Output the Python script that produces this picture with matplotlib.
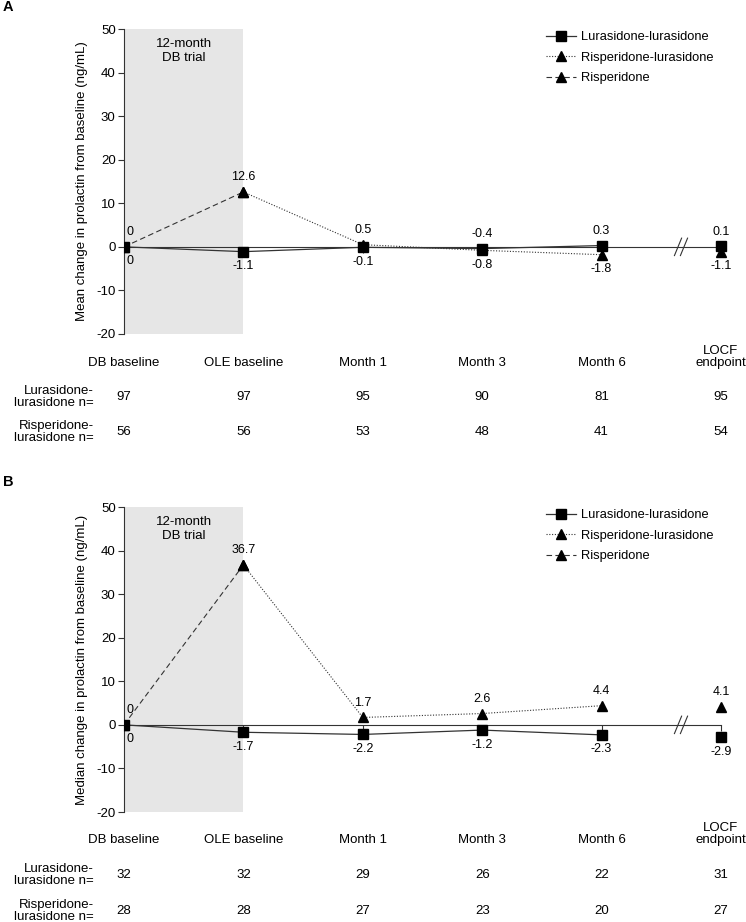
import numpy as np
import matplotlib
matplotlib.use("Agg")
import matplotlib.pyplot as plt
from matplotlib.transforms import blended_transform_factory

plt.rcParams['font.family'] = ['Liberation Sans', 'DejaVu Sans']
plt.rcParams['axes.unicode_minus'] = False

categories = ["DB baseline", "OLE baseline", "Month 1", "Month 3", "Month 6", "LOCF\nendpoint"]
series_names = ["Lurasidone-lurasidone", "Risperidone-lurasidone", "Risperidone"]
row_names = ["Lurasidone-\nlurasidone n=", "Risperidone-\nlurasidone n="]

# panel A: mean change
mean_lur = [0, -1.1, -0.1, -0.4, 0.3, 0.1]
mean_risp_lur = [np.nan, 12.6, 0.5, -0.8, -1.8, -1.1]
mean_risp = [0, 12.6]
mean_n_lur = [97, 97, 95, 90, 81, 95]
mean_n_risp = [56, 56, 53, 48, 41, 54]

# panel B: median change
med_lur = [0, -1.7, -2.2, -1.2, -2.3, -2.9]
med_risp_lur = [np.nan, 36.7, 1.7, 2.6, 4.4, 4.1]
med_risp = [0, 36.7]
med_n_lur = [32, 32, 29, 26, 22, 31]
med_n_risp = [28, 28, 27, 23, 20, 27]

W, H = 746, 922
fig = plt.figure(figsize=(W / 100, H / 100), dpi=100)

LINE = "#333333"


def fy(px):
    return 1 - px / H


def draw_panel(top, bottom, lur, risp_lur, risp, n_lur, n_risp, ylabel, letter, letter_y, leg_top, cat_y, row_y):
    left, right = 124, 739
    ax = fig.add_axes([left / W, fy(bottom), (right - left) / W, (bottom - top) / H])
    x = np.arange(len(categories))
    ax.set_xlim(0, (right - left) / 119.4)
    ax.set_ylim(-20, 50)

    # shaded DB trial block
    ax.axvspan(0, 1, color="#e6e6e6", zorder=0, lw=0)
    ax.text(0.5, 45, "12-month\nDB trial", ha="center", va="center", fontsize=9.5, linespacing=1.2)

    for s in ["top", "right"]:
        ax.spines[s].set_visible(False)
    ax.spines["bottom"].set_position(("data", 0))
    ax.spines["bottom"].set_bounds(0, 5)
    ax.spines["left"].set_bounds(-20, 50)
    for s in ["bottom", "left"]:
        ax.spines[s].set_color(LINE)
        ax.spines[s].set_linewidth(0.8)
    ax.set_xticks(x)
    ax.set_xticklabels([])
    ax.tick_params(axis="x", direction="out", length=4, width=0.8, color=LINE)
    ax.set_yticks(range(-20, 51, 10))
    ax.tick_params(axis="y", direction="out", length=4, width=0.8, color=LINE, labelsize=9.5, pad=2)

    # axis break
    for bx in [4.64, 4.69]:
        ax.plot([bx - 0.03, bx + 0.03], [-2.0, 2.0], color=LINE, lw=0.8, zorder=3)

    risp_lur = np.array(risp_lur, dtype=float)
    l3, = ax.plot(x[:2], risp, color=LINE, lw=0.8, ls=(0, (5, 3)), marker="^", ms=7.5,
                  mfc="black", mec="black", zorder=4, label=series_names[2])
    l2, = ax.plot(x[1:5], risp_lur[1:5], color=LINE, lw=0.8, ls=(0, (1, 1.5)), marker="^", ms=7.5,
                  mfc="black", mec="black", zorder=4, label=series_names[1])
    ax.plot(x[5], risp_lur[5], ls="none", marker="^", ms=7.5, color="black", zorder=4)
    l1, = ax.plot(x[:5], lur[:5], color=LINE, lw=0.9, marker="s", ms=6.8,
                  mfc="black", mec="black", zorder=5, label=series_names[0])
    ax.plot(x[5], lur[5], ls="none", marker="s", ms=6.8, color="black", zorder=5)

    # value labels: higher value above, lower below
    for i in range(len(categories)):
        tri = risp[0] if i == 0 else risp_lur[i]
        sq = lur[i]
        hi, lo = (tri, sq) if tri >= sq else (sq, tri)
        dx = 4 if i == 0 else 0
        for v, dy in [(hi, 10.5), (lo, -10.5)]:
            txt = "0" if v == 0 else f"{v:.1f}"
            ax.annotate(txt, (x[i], v), xytext=(dx, dy), textcoords="offset points",
                        ha="center", va="center", fontsize=9)

    ax.legend(handles=[l1, l2, l3], loc="upper left",
              bbox_to_anchor=(546 / W, fy(leg_top)), bbox_transform=fig.transFigure,
              frameon=False, fontsize=9.3, handlelength=2.3, handletextpad=0.4,
              labelspacing=0.66, borderpad=0, borderaxespad=0)

    fig.text(82 / W, fy((top + bottom) / 2), ylabel, rotation=90, ha="center", va="center", fontsize=9.5)
    fig.text(3 / W, fy(letter_y), letter, fontsize=10.5, fontweight="bold", ha="left", va="center")

    tr = blended_transform_factory(ax.transData, fig.transFigure)
    for i, c in enumerate(categories):
        yy = cat_y - 6 if "\n" in c else cat_y
        ax.text(x[i], fy(yy), c, transform=tr, ha="center", va="center", fontsize=9.5,
                linespacing=1.0, clip_on=False)
    for r, (name, vals) in enumerate(zip(row_names, [n_lur, n_risp])):
        fig.text(94 / W, fy(row_y[r]), name, ha="right", va="center", fontsize=9.5, linespacing=1.05)
        for i, v in enumerate(vals):
            ax.text(x[i], fy(row_y[r]), str(v), transform=tr, ha="center", va="center",
                    fontsize=9.5, clip_on=False)
    return ax


draw_panel(29, 334, mean_lur, mean_risp_lur, mean_risp, mean_n_lur, mean_n_risp,
           "Mean change in prolactin from baseline (ng/mL)", "A", 7, 31, 363, [397, 432])
draw_panel(507, 812, med_lur, med_risp_lur, med_risp, med_n_lur, med_n_risp,
           "Median change in prolactin from baseline (ng/mL)", "B", 482, 509, 840, [875, 911])

fig.savefig("out.png", dpi=100)
